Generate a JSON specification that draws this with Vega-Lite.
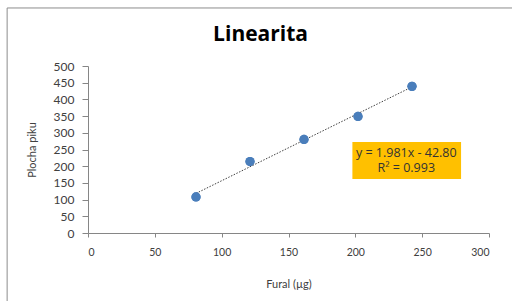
{
  "$schema": "https://vega.github.io/schema/vega-lite/v6.json",
  "width": 401,
  "height": 167,
  "autosize": {"type": "none"},
  "padding": {"left": 88, "top": 66, "right": 23, "bottom": 68},
  "background": "white",
  "config": {
    "view": {"stroke": null},
    "font": "Lato",
    "axis": {
      "grid": false,
      "domainColor": "#868686",
      "tickColor": "#868686",
      "labelColor": "#404040",
      "labelFont": "Lato",
      "labelFontSize": 10.5,
      "labelOverlap": false,
      "titleFont": "Lato",
      "titleFontSize": 11,
      "titleFontWeight": "normal",
      "titleColor": "#404040"
    },
    "axisX": {
      "tickSize": 4,
      "labelPadding": 10,
      "titlePadding": 21
    },
    "axisY": {
      "labelFontSize": 12,
      "tickSize": 6,
      "labelPadding": 8,
      "titlePadding": 16
    }
  },
  "data": {
    "values": [
      {"fural": 80.8, "plocha": 108},
      {"fural": 121.2, "plocha": 214},
      {"fural": 161.6, "plocha": 280},
      {"fural": 202.0, "plocha": 349},
      {"fural": 242.4, "plocha": 439}
    ]
  },
  "layer": [
    {
      "mark": {"type": "circle", "size": 85, "color": "#4A7EBB", "opacity": 1},
      "encoding": {
        "x": {
          "field": "fural",
          "type": "quantitative",
          "scale": {"domain": [0, 300], "nice": false},
          "axis": {"title": "Fural (µg)", "values": [0, 50, 100, 150, 200, 250, 300]}
        },
        "y": {
          "field": "plocha",
          "type": "quantitative",
          "scale": {"domain": [0, 500], "nice": false},
          "axis": {"title": "Plocha piku", "values": [0, 50, 100, 150, 200, 250, 300, 350, 400, 450, 500]}
        }
      }
    },
    {
      "data": {"values": [{}]},
      "mark": {"type": "rule", "color": "#8c8c8c", "strokeWidth": 1, "clip": false},
      "encoding": {
        "x": {"datum": -60.5, "type": "quantitative", "axis": {"title": "Fural (µg)", "values": [0, 50, 100, 150, 200, 250, 300]}},
        "y": {"datum": 673.7, "type": "quantitative", "axis": {"title": "Plocha piku", "values": [0, 50, 100, 150, 200, 250, 300, 350, 400, 450, 500]}},
        "x2": {"datum": 320},
        "y2": {"datum": 673.7}
      }
    },
    {
      "data": {"values": [{}]},
      "mark": {"type": "rule", "color": "#8c8c8c", "strokeWidth": 1, "clip": false},
      "encoding": {
        "x": {"datum": -60.5, "type": "quantitative", "axis": {"title": "Fural (µg)", "values": [0, 50, 100, 150, 200, 250, 300]}},
        "y": {"datum": 673.7, "type": "quantitative", "axis": {"title": "Plocha piku", "values": [0, 50, 100, 150, 200, 250, 300, 350, 400, 450, 500]}},
        "x2": {"datum": -60.5},
        "y2": {"datum": -210}
      }
    },
    {
      "data": {"values": [{}]},
      "mark": {
        "type": "text",
        "font": "Open Sans",
        "fontSize": 21,
        "fontWeight": "bold",
        "color": "#000000",
        "align": "center",
        "baseline": "middle",
        "clip": false
      },
      "encoding": {
        "x": {"datum": 129.1, "type": "quantitative", "axis": {"title": "Fural (µg)", "values": [0, 50, 100, 150, 200, 250, 300]}},
        "y": {"datum": 594, "type": "quantitative", "axis": {"title": "Plocha piku", "values": [0, 50, 100, 150, 200, 250, 300, 350, 400, 450, 500]}},
        "text": {"value": "Linearita"}
      }
    },
    {
      "transform": [{"regression": "plocha", "on": "fural"}],
      "mark": {"type": "line", "color": "#404040", "strokeWidth": 1, "strokeDash": [1.5, 1.5]},
      "encoding": {
        "x": {"field": "fural", "type": "quantitative", "axis": {"title": "Fural (µg)", "values": [0, 50, 100, 150, 200, 250, 300]}},
        "y": {"field": "plocha", "type": "quantitative", "axis": {"title": "Plocha piku", "values": [0, 50, 100, 150, 200, 250, 300, 350, 400, 450, 500]}}
      }
    },
    {
      "mark": {"type": "circle", "size": 85, "color": "#4A7EBB", "opacity": 1},
      "encoding": {
        "x": {"field": "fural", "type": "quantitative", "axis": {"title": "Fural (µg)", "values": [0, 50, 100, 150, 200, 250, 300]}},
        "y": {"field": "plocha", "type": "quantitative", "axis": {"title": "Plocha piku", "values": [0, 50, 100, 150, 200, 250, 300, 350, 400, 450, 500]}}
      }
    },
    {
      "data": {"values": [{}]},
      "mark": {"type": "rect", "color": "#FFC000"},
      "encoding": {
        "x": {"datum": 197.8, "type": "quantitative", "axis": {"title": "Fural (µg)", "values": [0, 50, 100, 150, 200, 250, 300]}},
        "x2": {"datum": 279.1},
        "y": {"datum": 272.5, "type": "quantitative", "axis": {"title": "Plocha piku", "values": [0, 50, 100, 150, 200, 250, 300, 350, 400, 450, 500]}},
        "y2": {"datum": 161.7}
      }
    },
    {
      "data": {"values": [{}]},
      "mark": {
        "type": "text",
        "font": "Open Sans",
        "fontSize": 12.5,
        "fontWeight": "normal",
        "color": "#333333",
        "align": "center",
        "baseline": "middle"
      },
      "encoding": {
        "x": {"datum": 238.1, "type": "quantitative", "axis": {"title": "Fural (µg)", "values": [0, 50, 100, 150, 200, 250, 300]}},
        "y": {"datum": 239, "type": "quantitative", "axis": {"title": "Plocha piku", "values": [0, 50, 100, 150, 200, 250, 300, 350, 400, 450, 500]}},
        "text": {"value": "y = 1.981x - 42.80"}
      }
    },
    {
      "data": {"values": [{}]},
      "mark": {
        "type": "text",
        "font": "Open Sans",
        "fontSize": 12.5,
        "fontWeight": "normal",
        "color": "#333333",
        "align": "center",
        "baseline": "middle"
      },
      "encoding": {
        "x": {"datum": 238.1, "type": "quantitative", "axis": {"title": "Fural (µg)", "values": [0, 50, 100, 150, 200, 250, 300]}},
        "y": {"datum": 195, "type": "quantitative", "axis": {"title": "Plocha piku", "values": [0, 50, 100, 150, 200, 250, 300, 350, 400, 450, 500]}},
        "text": {"value": "R² = 0.993"}
      }
    }
  ]
}
